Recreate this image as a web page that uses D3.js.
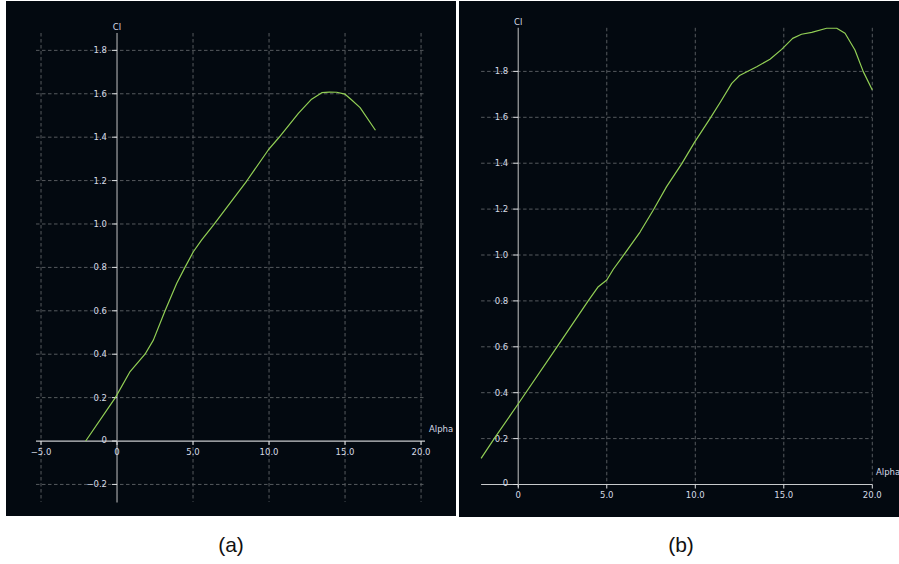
<!DOCTYPE html>
<html>
<head>
<meta charset="utf-8">
<script src="https://cdn.jsdelivr.net/npm/d3@7"></script>
<style>
  html, body { margin: 0; padding: 0; background: #ffffff; }
  svg { display: block; }
  .tick-label { font-family: "DejaVu Sans", sans-serif; font-size: 8.5px; fill: #d6dbe6; }
  .caption { font-family: "Liberation Sans", Arial, sans-serif; font-size: 21px; fill: #111; }
</style>
</head>
<body>
<svg id="chart" width="899" height="564"></svg>
<script>
// ---- Data ----
const alphaA = [-2.06, -0.11, 0.86, 1.84, 2.39, 3.16, 3.93, 4.47, 5.02, 5.57, 6.34, 8.53, 9.95, 10.61, 11.93, 12.8, 13.47, 13.97, 14.45, 15.0, 15.44, 15.99, 17.0];
const clA    = [0, 0.2, 0.32, 0.40, 0.465, 0.6, 0.727, 0.8, 0.872, 0.927, 0.995, 1.198, 1.341, 1.395, 1.51, 1.575, 1.605, 1.608, 1.607, 1.598, 1.571, 1.536, 1.432];

const alphaB = [-2.1, -1.36, 0, 2.19, 3.95, 4.52, 5.0, 5.37, 5.93, 6.88, 7.63, 8.38, 9.23, 9.98, 10.83, 11.43, 12.06, 12.5, 13.47, 14.22, 14.88, 15.5, 16.0, 16.58, 17.42, 17.99, 18.46, 19.02, 19.49, 20.0];
const clB    = [0.114, 0.2, 0.352, 0.6, 0.8, 0.862, 0.891, 0.938, 0.997, 1.10, 1.196, 1.298, 1.397, 1.494, 1.594, 1.668, 1.748, 1.782, 1.82, 1.853, 1.896, 1.944, 1.962, 1.97, 1.988, 1.988, 1.966, 1.893, 1.799, 1.719];

const xTicksA = [-5, 0, 5, 10, 15, 20];
const yTicksA = [-0.2, 0, 0.2, 0.4, 0.6, 0.8, 1.0, 1.2, 1.4, 1.6, 1.8];
const xTicksB = [0, 5, 10, 15, 20];
const yTicksB = [0, 0.2, 0.4, 0.6, 0.8, 1.0, 1.2, 1.4, 1.6, 1.8];

const xLabel = "Alpha";
const yLabel = "Cl";
const captions = ["(a)", "(b)"];

// ---- Drawing ----
const svg = d3.select("#chart");
svg.append("rect").attr("width", 899).attr("height", 564).attr("fill", "#ffffff");

const fmt = d => d === 0 ? "0" : d3.format(".1f")(d);

function drawPanel(cfg) {
  const g = svg.append("g");
  g.append("rect")
    .attr("x", cfg.box[0]).attr("y", cfg.box[1])
    .attr("width", cfg.box[2]).attr("height", cfg.box[3])
    .attr("fill", "#030910");

  const x = d3.scaleLinear().domain(cfg.xDomain).range(cfg.xRange);
  const y = d3.scaleLinear().domain(cfg.yDomain).range(cfg.yRange);
  const [x0, x1] = cfg.xRange;
  const [yb, yt] = cfg.yRange;

  // grid
  g.selectAll(".vg").data(cfg.xTicks.filter(d => d !== 0)).join("line")
    .attr("x1", d => x(d)).attr("x2", d => x(d))
    .attr("y1", yt).attr("y2", yb)
    .attr("stroke", "#565a5e").attr("stroke-width", 1).attr("stroke-dasharray", "3.5,2.5");
  g.selectAll(".hg").data(cfg.yTicks.filter(d => d !== 0)).join("line")
    .attr("x1", x0).attr("x2", x1)
    .attr("y1", d => y(d)).attr("y2", d => y(d))
    .attr("stroke", "#565a5e").attr("stroke-width", 1).attr("stroke-dasharray", "3.5,2.5");

  // axes
  g.append("line").attr("x1", x0).attr("x2", x1).attr("y1", y(0)).attr("y2", y(0))
    .attr("stroke", "#c8cacc").attr("stroke-width", 1.2);
  g.append("line").attr("x1", x(0)).attr("x2", x(0)).attr("y1", yt).attr("y2", cfg.yAxisBottom)
    .attr("stroke", "#8c8e90").attr("stroke-width", 1.4);

  // tick marks
  g.selectAll(".yt").data(cfg.yTicks).join("line")
    .attr("x1", x(0) - 5).attr("x2", x(0))
    .attr("y1", d => y(d)).attr("y2", d => y(d))
    .attr("stroke", "#e0e2e4").attr("stroke-width", 1);
  g.selectAll(".xt").data(cfg.xTicks).join("line")
    .attr("x1", d => x(d)).attr("x2", d => x(d))
    .attr("y1", y(0)).attr("y2", y(0) + 4)
    .attr("stroke", "#e0e2e4").attr("stroke-width", 1);

  // tick labels
  g.selectAll(".yl").data(cfg.yTicks).join("text")
    .attr("class", "tick-label")
    .attr("x", x(0) - 10).attr("y", d => y(d) - (d === 0 ? 1 : 0))
    .attr("dy", "0.35em").attr("text-anchor", "end")
    .text(fmt);
  g.selectAll(".xl").data(cfg.xTicks).join("text")
    .attr("class", "tick-label")
    .attr("x", d => x(d)).attr("y", y(0) + 11)
    .attr("dy", "0.35em").attr("text-anchor", "middle")
    .text(fmt);

  // axis titles
  g.append("text").attr("class", "tick-label")
    .attr("x", x(0)).attr("y", yt - 6).attr("dy", "0.35em").attr("text-anchor", "middle")
    .text(yLabel);
  g.append("text").attr("class", "tick-label")
    .attr("x", cfg.alphaPos[0]).attr("y", cfg.alphaPos[1]).attr("dy", "0.35em").attr("text-anchor", "start")
    .text(xLabel);

  // curve
  const pts = cfg.xs.map((a, i) => [a, cfg.ys[i]]);
  g.append("path").datum(pts)
    .attr("fill", "none").attr("stroke", "#92cf55").attr("stroke-width", 1.2)
    .attr("stroke-linejoin", "round")
    .attr("d", d3.line().x(d => x(d[0])).y(d => y(d[1])));

  // caption
  svg.append("text").attr("class", "caption")
    .attr("x", cfg.captionX).attr("y", 552).attr("text-anchor", "middle")
    .text(cfg.caption);
}

drawPanel({
  box: [6, 1, 450, 515],
  xDomain: [-5.33, 20.26], xRange: [36, 425],
  yDomain: [-0.28, 1.88], yRange: [501.8, 33],
  yAxisBottom: 502.5,
  xTicks: xTicksA, yTicks: yTicksA,
  xs: alphaA, ys: clA,
  alphaPos: [429, 429],
  caption: captions[0], captionX: 231
});

drawPanel({
  box: [459, 1, 440, 516],
  xDomain: [-2.1, 20.0], xRange: [481.1, 872.3],
  yDomain: [0, 1.99], yRange: [484.5, 27.8],
  yAxisBottom: 487,
  xTicks: xTicksB, yTicks: yTicksB,
  xs: alphaB, ys: clB,
  alphaPos: [876, 472],
  caption: captions[1], captionX: 681
});
</script>
</body>
</html>
